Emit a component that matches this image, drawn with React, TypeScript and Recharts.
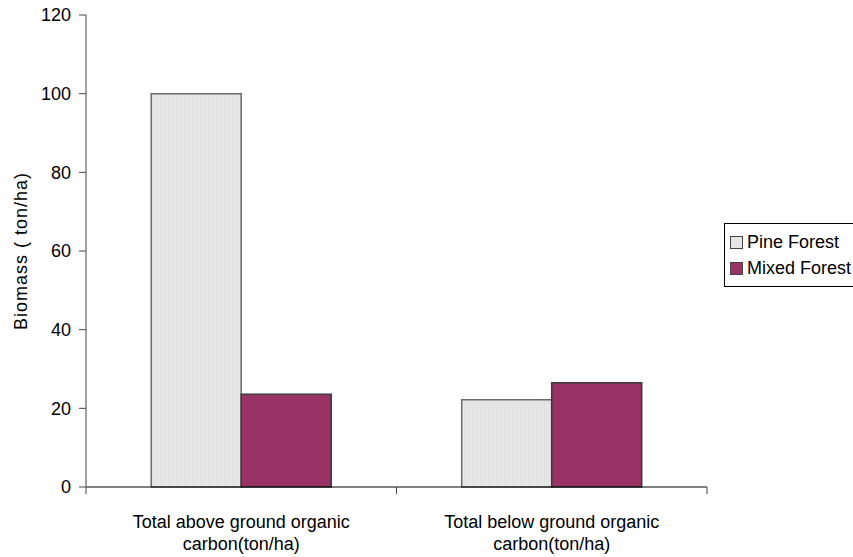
import { BarChart, Bar, XAxis, YAxis, Legend } from 'recharts';

const categories = [
  'Total above ground organic\ncarbon(ton/ha)',
  'Total below ground organic\ncarbon(ton/ha)'
];
const pineForest = [100, 22.2];
const mixedForest = [23.6, 26.5];
const yTicks = [0, 20, 40, 60, 80, 100, 120];

const seriesNames = ['Pine Forest', 'Mixed Forest'];
const swatchColors = ['#e6e6e6', '#993366'];

const data = categories.map((name, i) => ({
  name,
  pine: pineForest[i],
  mixed: mixedForest[i]
}));

const FONT = '"Liberation Sans", Arial, sans-serif';

// two-line group label, with small tick marks at the band edges
const CategoryTick = ({ x, y, payload, index }) => {
  const lines = String(payload.value).split('\n');
  const half = payload.offset || 0;
  return (
    <g>
      {index === 0 && <line x1={x - half} x2={x - half} y1={y} y2={y + 7} stroke="#444" />}
      <line x1={x + half} x2={x + half} y1={y} y2={y + 7} stroke="#444" />
      <text x={x} y={y} textAnchor="middle" fontFamily={FONT} fontSize={18} fill="#000">
        {lines.map((line, i) => (
          <tspan key={i} x={x} dy={i === 0 ? 41 : 22}>
            {line}
          </tspan>
        ))}
      </text>
    </g>
  );
};

const YTitle = ({ viewBox }) => {
  const cx = 27;
  const cy = viewBox.y + viewBox.height / 2;
  return (
    <text
      x={cx}
      y={cy}
      transform={`rotate(-90, ${cx}, ${cy})`}
      textAnchor="middle"
      fontFamily={FONT}
      fontSize={18}
      letterSpacing={1}
      fill="#000"
    >
      Biomass ( ton/ha)
    </text>
  );
};

const LegendBox = () => (
  <div
    style={{
      border: '1px solid #000',
      padding: '5px 8px 5px 5px',
      fontFamily: FONT,
      fontSize: 18,
      background: '#fff',
      width: 140,
      whiteSpace: 'nowrap'
    }}
  >
    {seriesNames.map((name, i) => (
      <div key={name} style={{ display: 'flex', alignItems: 'center', height: 26 }}>
        <span
          style={{
            display: 'inline-block',
            width: 11,
            height: 11,
            background: swatchColors[i],
            border: '1px solid #444',
            marginRight: 4
          }}
        />
        <span>{name}</span>
      </div>
    ))}
  </div>
);

export default function App() {
  return (
    <div
      style={{
        position: 'fixed',
        left: 0,
        top: 0,
        width: 853,
        height: 557,
        overflow: 'hidden',
        background: '#fff'
      }}
    >
      <BarChart
        width={853}
        height={557}
        data={data}
        margin={{ top: 15, right: 146, bottom: 0, left: 0 }}
        barCategoryGap="21%"
        barGap={0}
      >
        <defs>
          <pattern id="pineFill" width="2" height="2" patternUnits="userSpaceOnUse">
            <rect width="2" height="2" fill="#e9e9e9" />
            <rect width="1" height="2" fill="#e0e0e0" />
          </pattern>
        </defs>
        <XAxis
          dataKey="name"
          height={70}
          axisLine={{ stroke: '#000' }}
          tickLine={false}
          tickSize={0}
          tickMargin={0}
          interval={0}
          tick={CategoryTick}
        />
        <YAxis
          width={86}
          domain={[0, 120]}
          ticks={yTicks}
          interval={0}
          axisLine={{ stroke: '#808080', strokeWidth: 1.5 }}
          tickLine={{ stroke: '#444' }}
          tickSize={7}
          tickMargin={8}
          tick={{ fontFamily: FONT, fontSize: 18, fill: '#000' }}
          label={<YTitle />}
        />
        <Legend
          content={<LegendBox />}
          layout="vertical"
          align="center"
          verticalAlign="middle"
          wrapperStyle={{ left: 724, top: 223, width: 160 }}
        />
        <Bar
          dataKey="pine"
          name={seriesNames[0]}
          fill="url(#pineFill)"
          stroke="#6a6a6a"
          strokeWidth={1.5}
          isAnimationActive={false}
        />
        <Bar
          dataKey="mixed"
          name={seriesNames[1]}
          fill="#993366"
          stroke="#3a3a3a"
          strokeWidth={1.5}
          isAnimationActive={false}
        />
      </BarChart>
    </div>
  );
}
